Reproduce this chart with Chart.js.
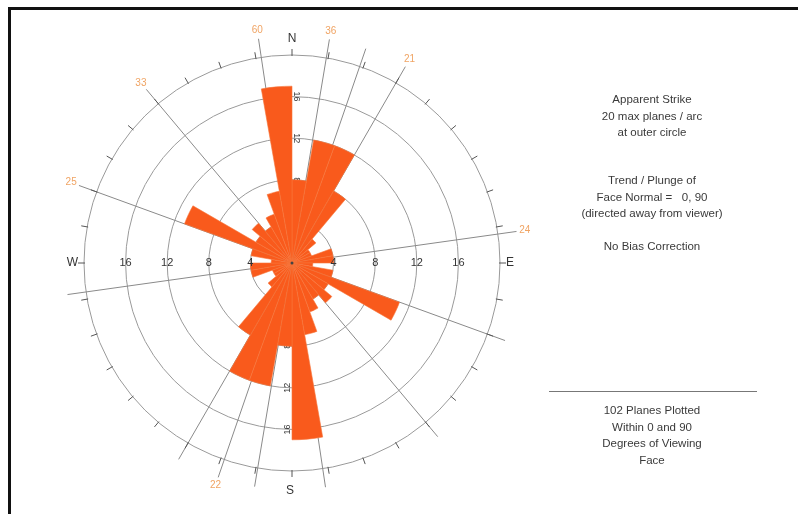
<!DOCTYPE html>
<html>
<head>
<meta charset="utf-8">
<script src="https://cdn.jsdelivr.net/npm/chart.js@4.4.1/dist/chart.umd.min.js"></script>
<style>
  html, body { margin: 0; padding: 0; background: #fff; }
  #wrap { position: relative; width: 798px; height: 514px; overflow: hidden; }
  #frame { position: absolute; left: 8px; top: 7px; width: 800px; height: 520px;
           border-top: 3px solid #111; border-left: 3px solid #111; }
  canvas { position: absolute; left: 0; top: 0; }
  .note { position: absolute; left: 552px; width: 200px; text-align: center;
          font-family: "Liberation Sans", Arial, sans-serif; font-size: 11.5px;
          color: #3a3a3a; line-height: 16.5px; }
  #rule { position: absolute; left: 549px; top: 391px; width: 208px; height: 0;
          border-top: 1px solid #777; }
</style>
</head>
<body>
<div id="wrap">
  <div id="frame"></div>
  <canvas id="RoseChart" width="798" height="514"></canvas>
  <div class="note" style="top:91px">Apparent Strike<br>20 max planes / arc<br>at outer circle</div>
  <div class="note" style="top:172px">Trend / Plunge of<br>Face Normal = &nbsp; 0, 90<br>(directed away from viewer)</div>
  <div class="note" style="top:238px">No Bias Correction</div>
  <div id="rule"></div>
  <div class="note" style="top:402px">102 Planes Plotted<br>Within 0 and 90<br>Degrees of Viewing<br>Face</div>
</div>
<script>
const ctx = document.getElementById('RoseChart').getContext('2d')

// 10 degree strike bins, bearing of each bin start
const binStarts = [0, 10, 20, 30, 40, 50, 60, 70, 80, 90, 100, 110, 120, 130, 140, 150, 160, 170,
                   180, 190, 200, 210, 220, 230, 240, 250, 260, 270, 280, 290, 300, 310, 320, 330, 340, 350];
// planes per arc (strike is bidirectional, so the second half repeats the first)
const planeCounts = [8, 12, 12, 8, 3, 2, 2, 4, 4, 2, 4, 11, 4, 5, 4, 5, 7, 17,
                     8, 12, 12, 8, 3, 2, 2, 4, 4, 2, 4, 11, 4, 5, 4, 5, 7, 17];

const ringTicks = [4, 8, 12, 16];
const maxPlanes = 20;

// reference directions drawn across the rose, with the label at one end
const refBearings = [351.5, 9.5, 199, 30, 82, 290, 320];
const refLabels = ['60', '36', '22', '21', '24', '25', '33'];

const FONT = '"Liberation Sans", Arial, sans-serif';

function polar(cx, cy, r, bearing) {
    const a = (bearing - 90) * Math.PI / 180;
    return [cx + r * Math.cos(a), cy + r * Math.sin(a)];
}

const roseDecor = {
    id: 'roseDecor',
    beforeDatasetsDraw(chart) {
        const sc = chart.scales.r;
        const c = chart.ctx;
        const cx = sc.xCenter, cy = sc.yCenter, R = sc.drawingArea;
        c.save();

        // reference lines through the centre
        c.strokeStyle = '#8a8a8a';
        c.lineWidth = 1;
        refBearings.forEach(b => {
            const p1 = polar(cx, cy, R * 1.09, b);
            const p2 = polar(cx, cy, R * 1.09, b + 180);
            c.beginPath();
            c.moveTo(p1[0], p1[1]);
            c.lineTo(p2[0], p2[1]);
            c.stroke();
        });

        // tick marks round the outer circle
        c.strokeStyle = '#555';
        for (let b = 0; b < 360; b += 10) {
            const p1 = polar(cx, cy, R - 1, b);
            const p2 = polar(cx, cy, R + 6, b);
            c.beginPath();
            c.moveTo(p1[0], p1[1]);
            c.lineTo(p2[0], p2[1]);
            c.stroke();
        }

        // orange labels at the ends of the reference lines
        c.fillStyle = '#f0a464';
        c.font = '10px ' + FONT;
        c.textAlign = 'center';
        c.textBaseline = 'middle';
        refBearings.forEach((b, i) => {
            const p = polar(cx, cy, R * 1.13, b);
            c.fillText(refLabels[i], p[0], p[1]);
        });

        // ring values along the N-S axis, turned sideways
        c.fillStyle = '#333';
        c.font = '9px ' + FONT;
        ringTicks.forEach(v => {
            const d = sc.getDistanceFromCenterForValue(v);
            c.save();
            c.translate(cx + 4, cy - d);
            c.rotate(Math.PI / 2);
            c.fillText(String(v), 0, 0);
            c.restore();
            c.save();
            c.translate(cx - 4, cy + d);
            c.rotate(-Math.PI / 2);
            c.fillText(String(v), 0, 0);
            c.restore();
        });
        c.restore();
    },
    afterDatasetsDraw(chart) {
        const sc = chart.scales.r;
        const c = chart.ctx;
        const cx = sc.xCenter, cy = sc.yCenter, R = sc.drawingArea;
        c.save();
        c.fillStyle = '#333';
        c.font = '11px ' + FONT;
        c.textAlign = 'center';
        c.textBaseline = 'middle';
        ringTicks.forEach(v => {
            const d = sc.getDistanceFromCenterForValue(v);
            c.fillText(String(v), cx - d, cy);
            c.fillText(String(v), cx + d, cy);
        });

        c.font = '12px ' + FONT;
        c.fillText('N', cx, cy - R - 16);
        c.fillText('S', cx - 2, cy + R + 20);
        c.textAlign = 'right';
        c.fillText('W', cx - R - 6, cy);
        c.textAlign = 'left';
        c.fillText('E', cx + R + 6, cy);

        // centre point
        c.fillStyle = '#444';
        c.beginPath();
        c.arc(cx, cy, 1.5, 0, Math.PI * 2);
        c.fill();
        c.restore();
    }
};

const data = {
    labels: binStarts,
    datasets: [
        {
            label: 'Apparent strike',
            data: planeCounts,
            backgroundColor: '#f95a1c',
            borderColor: '#f7753a',
            borderWidth: 0.6
        }
    ]
};

const config = {
    type: 'polarArea',
    data: data,
    options: {
        responsive: false,
        animation: false,
        layout: {
            padding: {left: 84, right: 298, top: 55, bottom: 43}
        },
        scales: {
            r: {
                min: 0,
                max: maxPlanes,
                startAngle: 0,
                ticks: {display: false, stepSize: 4},
                grid: {circular: true, color: '#9a9a9a', lineWidth: 1},
                angleLines: {display: false},
                pointLabels: {display: false}
            }
        },
        plugins: {
            legend: {display: false},
            tooltip: {enabled: false}
        }
    },
    plugins: [roseDecor]
};

const rose = new Chart(ctx, config);
</script>
</body>
</html>
